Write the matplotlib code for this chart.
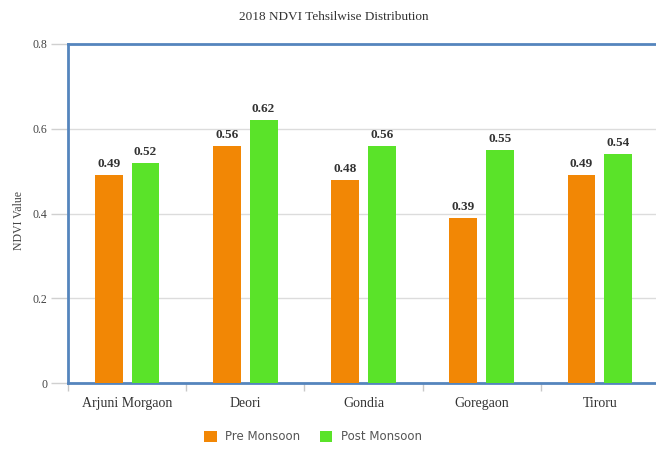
import matplotlib
matplotlib.use("Agg")
import matplotlib.pyplot as plt
import numpy as np
from matplotlib.patches import Patch

categories = ["Arjuni Morgaon", "Deori", "Gondia", "Goregaon", "Tiroru"]
pre_monsoon = [0.49, 0.56, 0.48, 0.39, 0.49]
post_monsoon = [0.52, 0.62, 0.56, 0.55, 0.54]
series_names = ["Pre Monsoon", "Post Monsoon"]
yticks = [0, 0.2, 0.4, 0.6, 0.8]
ytick_labels = ["0", "0.2", "0.4", "0.6", "0.8"]

W, H = 656, 451
fig = plt.figure(figsize=(W / 100, H / 100), dpi=100)
left, right, top, bottom = 68, 659, 44, 383
ax = fig.add_axes([left / W, 1 - bottom / H, (right - left) / W, (bottom - top) / H])

orange = "#f28705"
green = "#5ae329"
x = np.arange(len(categories))
bw = 0.235
off = 0.155
ax.bar(x - off, pre_monsoon, width=bw, color=orange, zorder=3)
ax.bar(x + off, post_monsoon, width=bw, color=green, zorder=3)

serif = ["Liberation Serif", "DejaVu Serif"]
for xi, v in zip(x, pre_monsoon):
    ax.text(xi - off, v + 0.012, f"{v:.2f}", ha="center", va="bottom",
            family=serif, fontsize=9.5, fontweight="bold", color="#333333")
for xi, v in zip(x, post_monsoon):
    ax.text(xi + off, v + 0.012, f"{v:.2f}", ha="center", va="bottom",
            family=serif, fontsize=9.5, fontweight="bold", color="#333333")

ax.set_xlim(-0.5, len(categories) - 0.5)
ax.set_ylim(0, 0.8)
ax.set_yticks(yticks)
ax.set_yticklabels(ytick_labels, family=serif, fontsize=8.5, color="#444444")
ax.set_xticks(x)
ax.set_xticklabels(categories, family=serif, fontsize=10, color="#333333")
ax.set_xticks(np.arange(len(categories) + 1) - 0.5, minor=True)
ax.tick_params(axis="x", which="major", length=0, pad=10)
ax.tick_params(axis="x", which="minor", length=6, color="#c8c8c8", width=1)
ax.tick_params(axis="y", length=12, color="#d0d0d0", width=1, pad=3)
ax.grid(axis="y", color="#dcdcdc", linewidth=1, zorder=0)
for s in ax.spines.values():
    s.set_color("#5585bd")
    s.set_linewidth(2)
ax.set_ylabel("NDVI Value", family=serif, fontsize=8.5, color="#444444", labelpad=4)
ax.yaxis.set_label_coords(-43 / (right - left), (383 - 221) / (bottom - top))

fig.text(334 / W, 1 - 17 / H, "2018 NDVI Tehsilwise Distribution", ha="center", va="center",
         family=serif, fontsize=9.5, color="#333333")

handles = [Patch(facecolor=orange, edgecolor="none"), Patch(facecolor=green, edgecolor="none")]
fig.legend(handles, series_names, loc="center", bbox_to_anchor=(313 / W, 1 - 437 / H),
           ncol=2, frameon=False, handlelength=1.1, handleheight=1.1, handletextpad=0.7,
           columnspacing=1.6, prop={"family": "DejaVu Sans", "size": 8.5},
           labelcolor="#555555")

fig.savefig("out.png", dpi=100)
